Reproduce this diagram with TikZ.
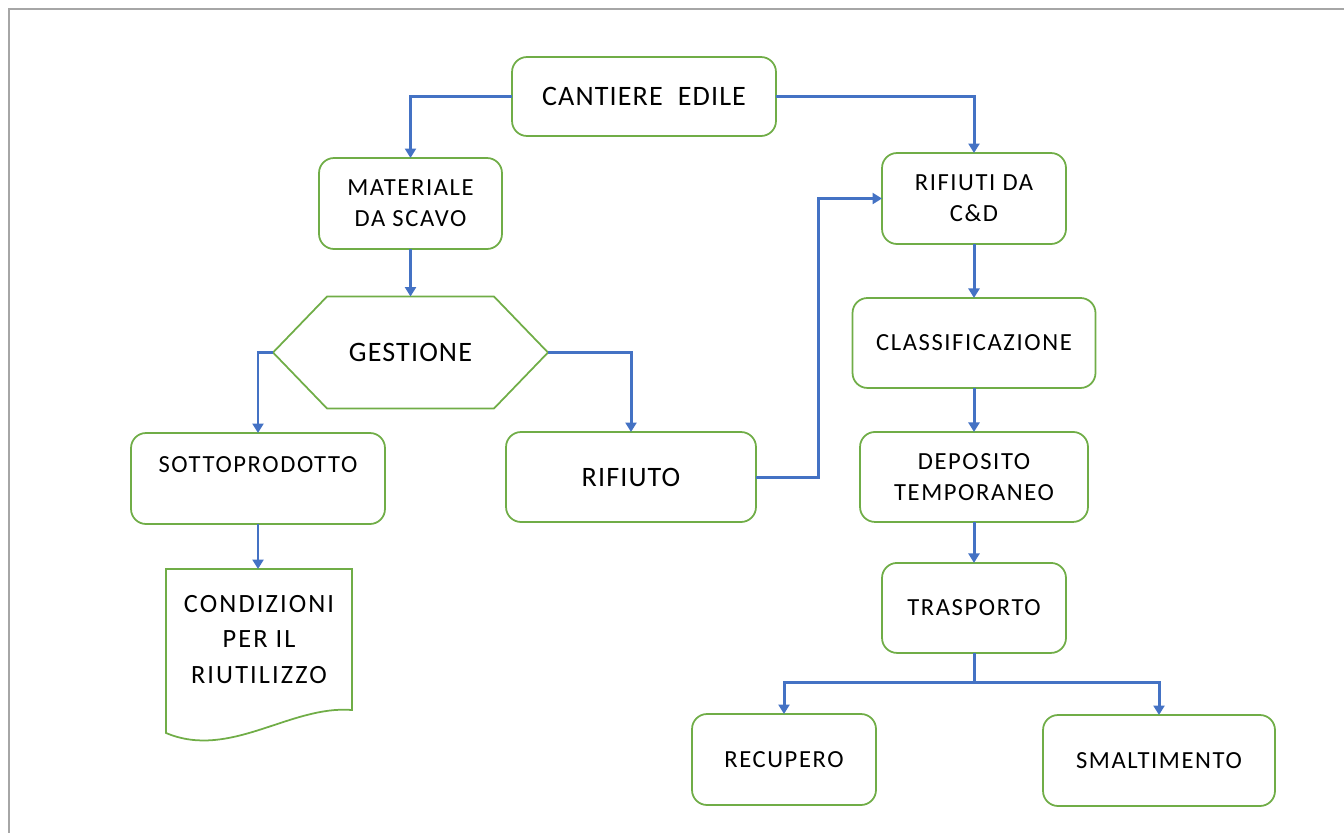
\documentclass[tikz,border=0pt]{standalone}
\usepackage{fontspec}
\setmainfont{Carlito}
\usepackage{tikz}
\usetikzlibrary{arrows.meta}
\usetikzlibrary{positioning}
\definecolor{flowblue}{RGB}{68, 114, 196}
\definecolor{flowgreen}{RGB}{112, 173, 71}
\definecolor{framegray}{RGB}{166, 166, 166}
\newcommand{\mBig}{\fontsize{16}{19}\selectfont\addfontfeatures{LetterSpace=4}}
\newcommand{\mNorm}{\fontsize{14}{17.5}\selectfont\addfontfeatures{LetterSpace=6.5}}
\newcommand{\mDoc}{\fontsize{15}{20}\selectfont\addfontfeatures{LetterSpace=8}}

\begin{document}
\begin{tikzpicture}[%
    x=0.02cm, y=-0.02cm,        % one unit is one pixel of the page
    >={Triangle[width=2.2mm,length=1.9mm]},
    ]
% -------------------------------------------------
% Box styles
\tikzset{
  base/.style={align=center, outer sep=0pt, inner sep=2pt, font=\mNorm},
  stepbox/.style={base, draw=flowgreen, line width=1pt, fill=white,
    rounded corners=0.3cm},
  bigbox/.style={stepbox, font=\mBig},
  shapebox/.style={base, draw=none},
  outline/.style={draw=flowgreen, line width=1pt, line join=miter},
  % -------------------------------------------------
  norm/.style={->, draw=flowblue, line width=1.7pt}
  }
\useasboundingbox (0,0) rectangle (1344,832);
\draw [framegray, line width=1.7pt] (9,860) -- (9,9) -- (1360,9);
% -------------------------------------------------
% Start by placing the nodes
\node [bigbox, minimum width=5.28cm, minimum height=1.58cm] (cant) at (644,96.5) {CANTIERE\ \ EDILE};

\node [stepbox, minimum width=3.66cm, minimum height=1.82cm] (mat) at (410.5,203.5) {MATERIALE\\DA SCAVO};
\node [shapebox, font=\mBig, minimum width=5.5cm, minimum height=2.24cm] (gest) at (410.5,352.5) {GESTIONE};
\draw [outline] (gest.west) -- ([xshift=1.08cm]gest.north west) -- ([xshift=-1.08cm]gest.north east)
  -- (gest.east) -- ([xshift=-1.08cm]gest.south east) -- ([xshift=1.08cm]gest.south west) -- cycle;

\node [stepbox, minimum width=5.08cm, minimum height=1.82cm, text depth=0.56cm] (sot) at (258,478.5) {SOTTOPRODOTTO};
\node [bigbox, minimum width=5cm, minimum height=1.8cm] (rif) at (631,477) {RIFIUTO};

\node [shapebox, font=\mDoc, minimum width=3.72cm, minimum height=2.82cm] (cond) at (259,639.5) {CONDIZIONI\\PER IL\\RIUTILIZZO};
\draw [outline] (cond.north west) -- (cond.north east) -- (cond.south east)
  .. controls +(-62,-5) and +(64,27) .. ([yshift=-0.46cm]cond.south west) -- cycle;

\node [stepbox, minimum width=3.68cm, minimum height=1.82cm] (rcd) at (974,198.5) {RIFIUTI DA\\C\&D};
\node [stepbox, minimum width=4.86cm, minimum height=1.8cm, below=1.08cm of rcd] (cls) {CLASSIFICAZIONE};
\node [stepbox, minimum width=4.56cm, minimum height=1.8cm, below=0.88cm of cls] (dep) {DEPOSITO\\TEMPORANEO};
\node [stepbox, minimum width=3.68cm, minimum height=1.8cm, below=0.82cm of dep] (tra) {TRASPORTO};

\node [stepbox, minimum width=3.68cm, minimum height=1.82cm] (rec) at (784,759.5) {RECUPERO};
\node [stepbox, minimum width=4.64cm, minimum height=1.82cm] (sma) at (1159,760.5) {SMALTIMENTO};

% -------------------------------------------------
% Connectors
\draw [norm] (cant.west) -| (mat.north);
\draw [norm] (cant.east) -| (rcd.north);
\draw [norm] (mat.south) -- (gest.north);
\draw [norm] (gest.west) -| (sot.north);
\draw [norm] (gest.east) -| (rif.north);
\draw [norm] (sot.south) -- (sot.south |- cond.north);
\draw [norm] (rif.east) -- ++(63,0) |- (rcd.west);
\draw [norm] (rcd.south) -- (cls.north);
\draw [norm] (cls.south) -- (dep.north);
\draw [norm] (dep.south) -- (tra.north);
\draw [norm] (tra.south) -- ++(0,30) coordinate (fork) -| (rec.north);
\draw [norm] (fork) -| (sma.north);
% -------------------------------------------------
\end{tikzpicture}
\end{document}
